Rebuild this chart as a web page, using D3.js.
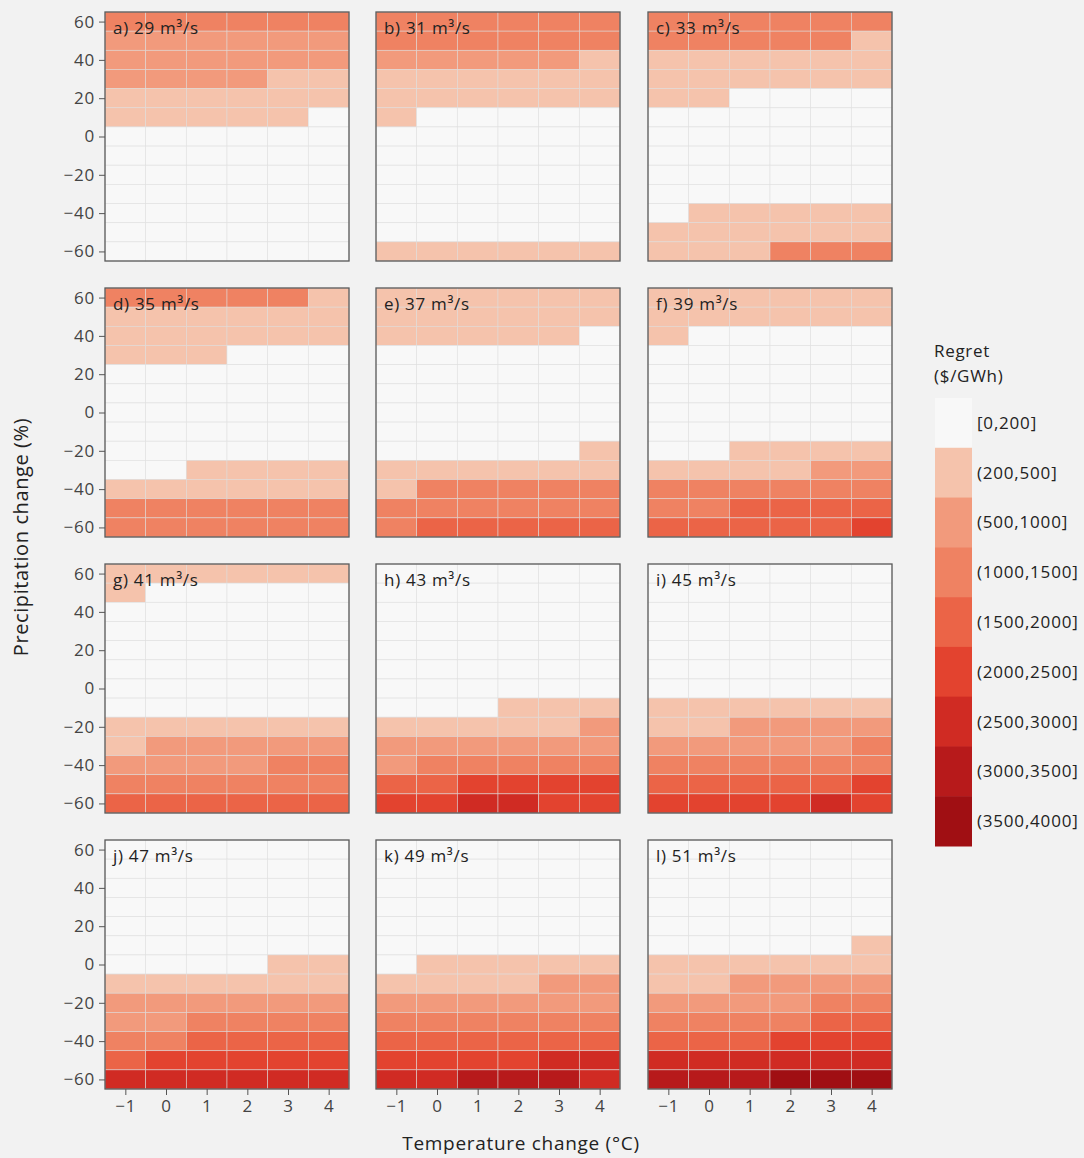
<!DOCTYPE html>
<html><head><meta charset="utf-8">
<script src="https://cdn.jsdelivr.net/npm/d3@7"></script>
<style>
body{margin:0;background:#f2f2f2;}
svg{display:block;font-family:"Open Sans","Noto Sans",sans-serif;}
</style>
</head><body>
<svg id="chart" width="1084" height="1158"></svg>
<script>
// ---------------- data ----------------
const temps = [-1, 0, 1, 2, 3, 4];
const precips = [60, 50, 40, 30, 20, 10, 0, -10, -20, -30, -40, -50, -60];
const flows = [29, 31, 33, 35, 37, 39, 41, 43, 45, 47, 49, 51];
const letters = ["a", "b", "c", "d", "e", "f", "g", "h", "i", "j", "k", "l"];
const xTicks = [-1, 0, 1, 2, 3, 4];
const yTicks = [60, 40, 20, 0, -20, -40, -60];
const classLabels = ["[0,200]", "(200,500]", "(500,1000]", "(1000,1500]", "(1500,2000]",
  "(2000,2500]", "(2500,3000]", "(3000,3500]", "(3500,4000]"];

// regret class index per cell: rows = precipitation 60 .. -60, columns = temperature -1 .. 4
const regretA = [
  [3,3,3,3,3,3],[2,2,2,2,2,2],[2,2,2,2,2,2],[2,2,2,2,1,1],[1,1,1,1,1,1],[1,1,1,1,1,0],
  [0,0,0,0,0,0],[0,0,0,0,0,0],[0,0,0,0,0,0],[0,0,0,0,0,0],[0,0,0,0,0,0],[0,0,0,0,0,0],[0,0,0,0,0,0]];
const regretB = [
  [3,3,3,3,3,3],[3,3,3,3,3,3],[2,2,2,2,2,1],[1,1,1,1,1,1],[1,1,1,1,1,1],[1,0,0,0,0,0],
  [0,0,0,0,0,0],[0,0,0,0,0,0],[0,0,0,0,0,0],[0,0,0,0,0,0],[0,0,0,0,0,0],[0,0,0,0,0,0],[1,1,1,1,1,1]];
const regretC = [
  [3,3,3,3,3,3],[3,3,3,3,3,1],[1,1,1,1,1,1],[1,1,1,1,1,1],[1,1,0,0,0,0],[0,0,0,0,0,0],
  [0,0,0,0,0,0],[0,0,0,0,0,0],[0,0,0,0,0,0],[0,0,0,0,0,0],[0,1,1,1,1,1],[1,1,1,1,1,1],[1,1,1,3,3,3]];
const regretD = [
  [3,3,3,3,3,1],[1,1,1,1,1,1],[1,1,1,1,1,1],[1,1,1,0,0,0],[0,0,0,0,0,0],[0,0,0,0,0,0],
  [0,0,0,0,0,0],[0,0,0,0,0,0],[0,0,0,0,0,0],[0,0,1,1,1,1],[1,1,1,1,1,1],[3,3,3,3,3,3],[3,3,3,3,3,3]];
const regretE = [
  [1,1,1,1,1,1],[1,1,1,1,1,1],[1,1,1,1,1,0],[0,0,0,0,0,0],[0,0,0,0,0,0],[0,0,0,0,0,0],
  [0,0,0,0,0,0],[0,0,0,0,0,0],[0,0,0,0,0,1],[1,1,1,1,1,1],[1,3,3,3,3,3],[3,3,3,3,3,3],[3,4,4,4,4,4]];
const regretF = [
  [1,1,1,1,1,1],[1,1,1,1,1,1],[1,0,0,0,0,0],[0,0,0,0,0,0],[0,0,0,0,0,0],[0,0,0,0,0,0],
  [0,0,0,0,0,0],[0,0,0,0,0,0],[0,0,1,1,1,1],[1,1,1,1,2,2],[3,3,3,3,3,3],[3,3,4,4,4,4],[4,4,4,4,4,5]];
const regretG = [
  [1,1,1,1,1,1],[1,0,0,0,0,0],[0,0,0,0,0,0],[0,0,0,0,0,0],[0,0,0,0,0,0],[0,0,0,0,0,0],
  [0,0,0,0,0,0],[0,0,0,0,0,0],[1,1,1,1,1,1],[1,2,2,2,2,2],[2,2,2,2,3,3],[3,3,3,3,3,3],[4,4,4,4,4,4]];
const regretH = [
  [0,0,0,0,0,0],[0,0,0,0,0,0],[0,0,0,0,0,0],[0,0,0,0,0,0],[0,0,0,0,0,0],[0,0,0,0,0,0],
  [0,0,0,0,0,0],[0,0,0,1,1,1],[1,1,1,1,1,2],[2,2,2,2,2,2],[2,3,3,3,3,3],[4,4,5,5,5,5],[5,5,6,6,5,5]];
const regretI = [
  [0,0,0,0,0,0],[0,0,0,0,0,0],[0,0,0,0,0,0],[0,0,0,0,0,0],[0,0,0,0,0,0],[0,0,0,0,0,0],
  [0,0,0,0,0,0],[1,1,1,1,1,1],[1,1,2,2,2,2],[2,2,2,2,2,3],[3,3,3,3,3,3],[4,4,4,4,4,5],[5,5,5,5,6,5]];
const regretJ = [
  [0,0,0,0,0,0],[0,0,0,0,0,0],[0,0,0,0,0,0],[0,0,0,0,0,0],[0,0,0,0,0,0],[0,0,0,0,0,0],
  [0,0,0,0,1,1],[1,1,1,1,1,1],[2,2,2,2,2,2],[2,2,3,3,3,3],[3,3,4,4,4,4],[4,5,5,5,5,5],[6,6,6,6,6,6]];
const regretK = [
  [0,0,0,0,0,0],[0,0,0,0,0,0],[0,0,0,0,0,0],[0,0,0,0,0,0],[0,0,0,0,0,0],[0,0,0,0,0,0],
  [0,1,1,1,1,1],[1,1,1,1,2,2],[2,2,2,2,2,2],[3,3,3,3,3,3],[4,4,4,4,4,4],[5,5,5,5,6,6],[6,6,7,7,7,6]];
const regretL = [
  [0,0,0,0,0,0],[0,0,0,0,0,0],[0,0,0,0,0,0],[0,0,0,0,0,0],[0,0,0,0,0,0],[0,0,0,0,0,1],
  [1,1,1,1,1,1],[1,1,2,2,2,2],[2,2,2,2,3,3],[3,3,3,3,4,4],[4,4,4,5,5,5],[6,6,6,6,6,6],[7,7,7,8,8,8]];
const panels = [regretA, regretB, regretC, regretD, regretE, regretF,
                regretG, regretH, regretI, regretJ, regretK, regretL];

// ---------------- style ----------------
const palette = ["#f8f8f8", "#f5c3ac", "#f29a7c", "#ef8262", "#eb6447",
                 "#e3432f", "#d02b23", "#b71a1b", "#a00f13"];
const colLeft = [105, 376, 648];
const rowTop = [12, 288, 564, 840];
const W = 244, H = 249;
const FONT = "'Open Sans','Noto Sans',sans-serif";

const svg = d3.select("#chart");
const color = d3.scaleOrdinal().domain(d3.range(classLabels.length)).range(palette);

const xBand = d3.scaleBand().domain(temps).range([0, W]);
const yBand = d3.scaleBand().domain(precips).range([0, H]);
const xLin = d3.scaleLinear().domain([-1.5, 4.5]).range([0, W]);
const yLin = d3.scaleLinear().domain([-65, 65]).range([H, 0]);
const fmt = d3.format("d");

panels.forEach((grid, i) => {
  const r = Math.floor(i / 3), c = i % 3;
  const g = svg.append("g").attr("transform", `translate(${colLeft[c]},${rowTop[r]})`);
  const cells = [];
  grid.forEach((row, ri) => row.forEach((v, ci) => cells.push({p: precips[ri], t: temps[ci], v})));
  g.selectAll("rect.cell").data(cells).join("rect")
    .attr("class", "cell")
    .attr("x", d => xBand(d.t)).attr("y", d => yBand(d.p))
    .attr("width", xBand.bandwidth()).attr("height", yBand.bandwidth())
    .attr("fill", d => color(d.v))
    .attr("stroke", "rgba(222,222,222,0.75)").attr("stroke-width", 0.7);
  g.append("rect").attr("width", W).attr("height", H)
    .attr("fill", "none").attr("stroke", "#5a5a5a").attr("stroke-width", 1.3);
  g.append("text").attr("x", 8).attr("y", 22)
    .attr("font-size", 17).attr("letter-spacing", 0.7).attr("fill", "#222")
    .text(`${letters[i]}) ${flows[i]} m³/s`);

  if (c === 0) {
    const ay = g.append("g").call(d3.axisLeft(yLin).tickValues(yTicks).tickFormat(fmt)
      .tickSize(6).tickPadding(4));
    ay.select(".domain").remove();
    ay.selectAll(".tick line").attr("stroke", "#555");
    ay.selectAll(".tick text").attr("font-size", 17).attr("letter-spacing", 0.8)
      .attr("fill", "#444").attr("font-family", FONT);
  }
  if (r === 3) {
    const ax = g.append("g").attr("transform", `translate(0,${H})`)
      .call(d3.axisBottom(xLin).tickValues(xTicks).tickFormat(fmt).tickSize(6).tickPadding(5));
    ax.select(".domain").remove();
    ax.selectAll(".tick line").attr("stroke", "#555");
    ax.selectAll(".tick text").attr("font-size", 17).attr("letter-spacing", 0.8)
      .attr("fill", "#444").attr("font-family", FONT);
  }
});

// axis titles
svg.append("text").attr("transform", "translate(28,537) rotate(-90)")
  .attr("text-anchor", "middle").attr("font-size", 20).attr("letter-spacing", 0.6)
  .attr("fill", "#222").text("Precipitation change (%)");
svg.append("text").attr("x", 521).attr("y", 1150)
  .attr("text-anchor", "middle").attr("font-size", 19).attr("letter-spacing", 0.7)
  .attr("fill", "#222").text("Temperature change (°C)");

// legend
const lg = svg.append("g").attr("transform", "translate(934,0)");
lg.append("text").attr("x", 0).attr("y", 357).attr("font-size", 17).attr("letter-spacing", 0.7)
  .attr("fill", "#222").text("Regret");
lg.append("text").attr("x", 0).attr("y", 382).attr("font-size", 17).attr("letter-spacing", 0.7)
  .attr("fill", "#222").text("($/GWh)");
const legY = d3.scaleBand().domain(classLabels).range([398, 846]);
lg.selectAll("rect.sw").data(classLabels).join("rect")
  .attr("class", "sw").attr("x", 1).attr("y", d => legY(d))
  .attr("width", 37).attr("height", legY.bandwidth() + 0.5)
  .attr("fill", (d, k) => color(k));
lg.selectAll("text.lab").data(classLabels).join("text")
  .attr("class", "lab").attr("x", 43).attr("y", d => legY(d) + legY.bandwidth() / 2)
  .attr("dy", "0.35em").attr("font-size", 17).attr("letter-spacing", 0.8)
  .attr("fill", "#222").text(d => d);
</script>
</body></html>
